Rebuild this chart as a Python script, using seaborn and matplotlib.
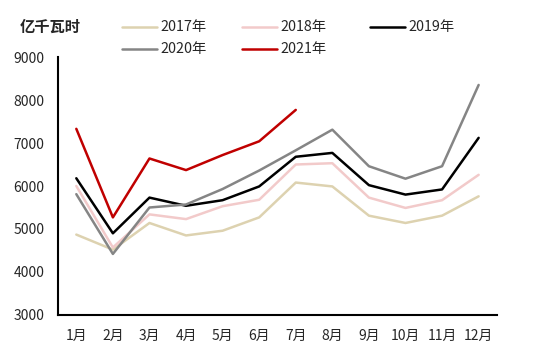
import numpy as np
import pandas as pd
import seaborn as sns
import matplotlib.pyplot as plt
from matplotlib.ticker import FixedLocator, NullFormatter

months = ["1月", "2月", "3月", "4月", "5月", "6月", "7月", "8月", "9月", "10月", "11月", "12月"]
y2017 = [4870, 4520, 5140, 4850, 4960, 5270, 6080, 5990, 5310, 5140, 5310, 5760]
y2018 = [6000, 4570, 5340, 5230, 5530, 5680, 6500, 6530, 5730, 5490, 5670, 6260]
y2019 = [6180, 4900, 5730, 5540, 5670, 5990, 6680, 6770, 6020, 5800, 5920, 7120]
y2020 = [5810, 4420, 5500, 5570, 5930, 6360, 6830, 7310, 6460, 6170, 6460, 8350]
y2021 = [7330, 5270, 6640, 6370, 6720, 7040, 7770]

series = {"2017年": y2017, "2018年": y2018, "2019年": y2019, "2020年": y2020, "2021年": y2021}
colors = {"2017年": "#DDD2B0", "2018年": "#F2CACA", "2019年": "#000000",
          "2020年": "#858585", "2021年": "#C00000"}

rows = []
for name, vals in series.items():
    for i, v in enumerate(vals):
        rows.append({"year": name, "x": i, "value": v})
df = pd.DataFrame(rows)

sns.set_style("white")
plt.rcParams['font.family'] = ['Noto Sans CJK SC', 'DejaVu Sans']

fig = plt.figure(figsize=(5.5, 3.55), dpi=100)
ax = fig.add_axes([0.1055, 0.1127, 0.798, 0.7267])

sns.lineplot(data=df, x="x", y="value", hue="year", palette=colors,
             hue_order=list(series.keys()), linewidth=1.8, errorbar=None,
             legend=False, ax=ax)

ax.set_xlim(-0.5, 11.5)
ax.set_ylim(3000, 9000)
ax.set_yticks(np.arange(3000, 9001, 1000))
ax.set_xticks(np.arange(-0.5, 12, 1))
ax.xaxis.set_major_formatter(NullFormatter())
ax.xaxis.set_minor_locator(FixedLocator(range(12)))
ax.set_xticklabels(months, minor=True)
ax.tick_params(axis="x", which="major", direction="in", length=4, width=1.2, color="black")
ax.tick_params(axis="x", which="minor", length=0, pad=10, labelsize=10)
ax.tick_params(axis="y", direction="in", length=4, width=1.2, color="black", labelsize=10, pad=10)
ax.set_xlabel("")
ax.set_ylabel("")
for s in ["top", "right"]:
    ax.spines[s].set_visible(False)
for s in ["left", "bottom"]:
    ax.spines[s].set_color("black")
    ax.spines[s].set_linewidth(1.5)

fig.text(0.036, 0.924, "亿千瓦时", fontsize=11, fontweight="bold", va="center")

leg_pos = [(0.222, 0.924), (0.44, 0.924), (0.673, 0.924), (0.222, 0.862), (0.44, 0.862)]
for (lx, ly), name in zip(leg_pos, series):
    fig.add_artist(plt.Line2D([lx, lx + 0.064], [ly, ly], color=colors[name], lw=1.8,
                              transform=fig.transFigure))
    fig.text(lx + 0.07, ly, name, fontsize=10.3, va="center")

fig.savefig("out.png", dpi=100)
